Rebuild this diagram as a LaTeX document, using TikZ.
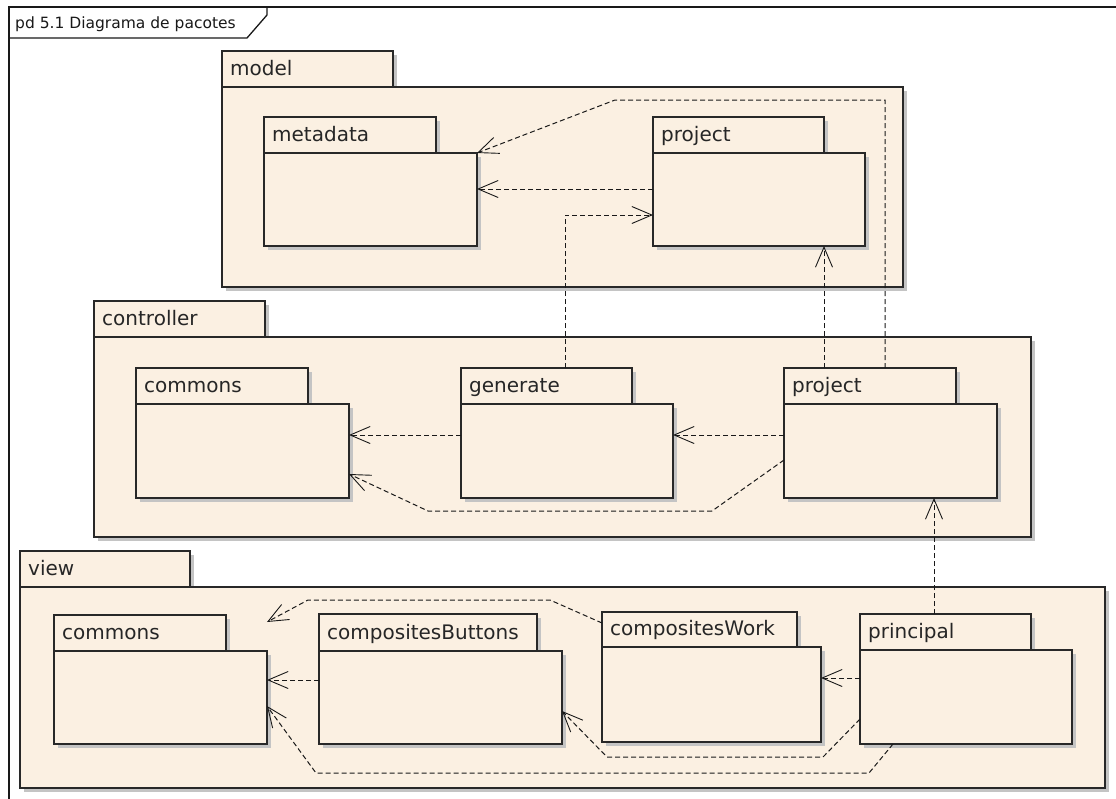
\documentclass[tikz,border=0pt]{standalone}
\usepackage{fontspec}
\setmainfont{DejaVu Sans}
\usetikzlibrary{arrows.meta,shadows,calc}
\definecolor{pkgfill}{RGB}{251,240,226}
\definecolor{pkgline}{RGB}{40,40,40}
\definecolor{shadowc}{RGB}{196,196,196}
\tikzset{
  pkgshape/.style={draw=pkgline, line width=1.6pt, fill=pkgfill, inner sep=0pt, outer sep=0pt,
    drop shadow={shadow xshift=4pt, shadow yshift=-4pt, fill=shadowc, opacity=1}},
  pkglabel/.style={inner sep=0pt, text=black!85, font=\fontsize{20}{23}\selectfont},
  dep/.style={draw=black!90, line width=1pt, dash pattern=on 5pt off 3pt,
    -{Straight Barb[length=20pt,width=17pt,line width=0.9pt]}}
}
% #1 name, #2 label, #3 x left, #4 tab top, #5 tab right, #6 tab bottom, #7 body right, #8 body bottom
\newcommand\pkgdraw[8]{%
  \node[pkgshape, anchor=north west, minimum width={#5-#3}, minimum height={#6-#4}] (#1-t) at (#3,#4) {};
  \node[pkglabel, anchor=base west] (#1-l) at (#3+8,#6-11.5) {#2};
  \node[pkgshape, anchor=north west, minimum width={#7-#3}, minimum height={#8-#6}] (#1) at (#3,#6) {};
}
\begin{document}
\begin{tikzpicture}[x=1pt,y=-1pt]
\useasboundingbox (0,0) rectangle (1116,798);
\clip (0,0) rectangle (1116,798);
\fill[white] (0,0) rectangle (1116,798);
% frame
\draw[line width=1.5pt, draw=black!90] (9,7) rectangle (1130,810);
\draw[line width=1.3pt, draw=black!90] (9,38) -- (247,38) -- (267,15) -- (267,7);
\node[inner sep=0pt, anchor=base west, text=black!90, font=\fontsize{15.5}{18}\selectfont] (title) at (15,28) {pd 5.1 Diagrama de pacotes};

% model
\pkgdraw{model}{model}{222}{51}{393}{87}{903}{287}
\pkgdraw{meta}{metadata}{264}{117}{436}{153}{477}{246}
\pkgdraw{mproj}{project}{653}{117}{824}{153}{865}{246}
% controller
\pkgdraw{ctrl}{controller}{94}{301}{265}{337}{1031}{537}
\pkgdraw{ccom}{commons}{136}{368}{308}{404}{349}{498}
\pkgdraw{gen}{generate}{461}{368}{632}{404}{673}{498}
\pkgdraw{cproj}{project}{784}{368}{956}{404}{997}{498}
% view
\pkgdraw{view}{view}{20}{551}{190}{587}{1105}{788}
\pkgdraw{vcom}{commons}{54}{615}{226}{651}{267}{744}
\pkgdraw{cbut}{compositesButtons}{319}{614}{537}{651}{562}{744}
\pkgdraw{cwork}{compositesWork}{602}{612}{797}{647}{821}{742}
\pkgdraw{princ}{principal}{860}{614}{1031}{650}{1072}{744}

% model dependencies
\draw[dep] (mproj.west |- 0,189) -- (meta.east |- 0,189);
\draw[dep] (cproj-t.north -| 885,0) |- (615,100) -- (meta.north east);
\draw[dep] (gen-t.north -| 565,0) |- (mproj.west |- 0,215);
\draw[dep] (cproj-t.north -| 824,0) -- (mproj.south -| 824,0);
% controller dependencies
\draw[dep] (gen.west |- 0,435) -- (ccom.east |- 0,435);
\draw[dep] (cproj.west |- 0,435) -- (gen.east |- 0,435);
\draw[dep] (cproj.west |- 0,460) -- (712,511) -- (428,511) -- (ccom.east |- 0,474);
% view -> controller
\draw[dep] (princ-t.north -| 934,0) -- (cproj.south -| 934,0);
% view dependencies
\draw[dep] (cbut.west |- 0,680) -- (vcom.east |- 0,680);
\draw[dep] (princ.west |- 0,678) -- (cwork.east |- 0,678);
\draw[dep] (cwork-t.west |- 0,623) -- (550,600) -- (308,600) -- (vcom.east |- 0,622);
\draw[dep] (princ.west |- 0,719) -- (823,757) -- (607,757) -- (cbut.east |- 0,711);
\draw[dep] (princ.south -| 893,0) -- (869,773) -- (316,773) -- (vcom.east |- 0,706);
\end{tikzpicture}
\end{document}
